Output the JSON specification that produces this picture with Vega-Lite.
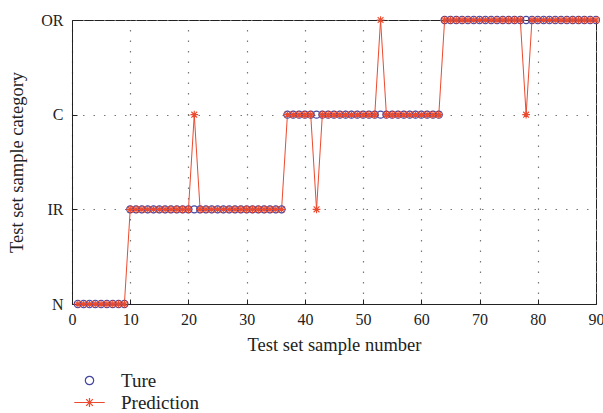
{
  "$schema": "https://vega.github.io/schema/vega-lite/v6.json",
  "width": 524,
  "height": 284,
  "autosize": {"type": "none"},
  "padding": {"left": 72, "top": 20, "right": 7, "bottom": 109},
  "background": "white",
  "config": {
    "view": {"stroke": "#222", "strokeWidth": 1},
    "font": "Liberation Serif",
    "axis": {
      "labelFont": "Liberation Serif",
      "titleFont": "Liberation Serif",
      "labelFontSize": 16,
      "titleFontSize": 18.5,
      "titleFontWeight": "normal",
      "labelColor": "#222",
      "titleColor": "#222",
      "domainColor": "#222",
      "tickColor": "#222",
      "tickSize": -5,
      "grid": true,
      "gridColor": "#777",
      "gridDash": [1.5, 9],
      "gridWidth": 1.2
    },
    "legend": {
      "labelFont": "Liberation Serif",
      "labelFontSize": 19,
      "labelColor": "#222"
    }
  },
  "data": {
    "values": [
      {"n": 1, "Ture": "N", "Prediction": "N"},
      {"n": 2, "Ture": "N", "Prediction": "N"},
      {"n": 3, "Ture": "N", "Prediction": "N"},
      {"n": 4, "Ture": "N", "Prediction": "N"},
      {"n": 5, "Ture": "N", "Prediction": "N"},
      {"n": 6, "Ture": "N", "Prediction": "N"},
      {"n": 7, "Ture": "N", "Prediction": "N"},
      {"n": 8, "Ture": "N", "Prediction": "N"},
      {"n": 9, "Ture": "N", "Prediction": "N"},
      {"n": 10, "Ture": "IR", "Prediction": "IR"},
      {"n": 11, "Ture": "IR", "Prediction": "IR"},
      {"n": 12, "Ture": "IR", "Prediction": "IR"},
      {"n": 13, "Ture": "IR", "Prediction": "IR"},
      {"n": 14, "Ture": "IR", "Prediction": "IR"},
      {"n": 15, "Ture": "IR", "Prediction": "IR"},
      {"n": 16, "Ture": "IR", "Prediction": "IR"},
      {"n": 17, "Ture": "IR", "Prediction": "IR"},
      {"n": 18, "Ture": "IR", "Prediction": "IR"},
      {"n": 19, "Ture": "IR", "Prediction": "IR"},
      {"n": 20, "Ture": "IR", "Prediction": "IR"},
      {"n": 21, "Ture": "IR", "Prediction": "C"},
      {"n": 22, "Ture": "IR", "Prediction": "IR"},
      {"n": 23, "Ture": "IR", "Prediction": "IR"},
      {"n": 24, "Ture": "IR", "Prediction": "IR"},
      {"n": 25, "Ture": "IR", "Prediction": "IR"},
      {"n": 26, "Ture": "IR", "Prediction": "IR"},
      {"n": 27, "Ture": "IR", "Prediction": "IR"},
      {"n": 28, "Ture": "IR", "Prediction": "IR"},
      {"n": 29, "Ture": "IR", "Prediction": "IR"},
      {"n": 30, "Ture": "IR", "Prediction": "IR"},
      {"n": 31, "Ture": "IR", "Prediction": "IR"},
      {"n": 32, "Ture": "IR", "Prediction": "IR"},
      {"n": 33, "Ture": "IR", "Prediction": "IR"},
      {"n": 34, "Ture": "IR", "Prediction": "IR"},
      {"n": 35, "Ture": "IR", "Prediction": "IR"},
      {"n": 36, "Ture": "IR", "Prediction": "IR"},
      {"n": 37, "Ture": "C", "Prediction": "C"},
      {"n": 38, "Ture": "C", "Prediction": "C"},
      {"n": 39, "Ture": "C", "Prediction": "C"},
      {"n": 40, "Ture": "C", "Prediction": "C"},
      {"n": 41, "Ture": "C", "Prediction": "C"},
      {"n": 42, "Ture": "C", "Prediction": "IR"},
      {"n": 43, "Ture": "C", "Prediction": "C"},
      {"n": 44, "Ture": "C", "Prediction": "C"},
      {"n": 45, "Ture": "C", "Prediction": "C"},
      {"n": 46, "Ture": "C", "Prediction": "C"},
      {"n": 47, "Ture": "C", "Prediction": "C"},
      {"n": 48, "Ture": "C", "Prediction": "C"},
      {"n": 49, "Ture": "C", "Prediction": "C"},
      {"n": 50, "Ture": "C", "Prediction": "C"},
      {"n": 51, "Ture": "C", "Prediction": "C"},
      {"n": 52, "Ture": "C", "Prediction": "C"},
      {"n": 53, "Ture": "C", "Prediction": "OR"},
      {"n": 54, "Ture": "C", "Prediction": "C"},
      {"n": 55, "Ture": "C", "Prediction": "C"},
      {"n": 56, "Ture": "C", "Prediction": "C"},
      {"n": 57, "Ture": "C", "Prediction": "C"},
      {"n": 58, "Ture": "C", "Prediction": "C"},
      {"n": 59, "Ture": "C", "Prediction": "C"},
      {"n": 60, "Ture": "C", "Prediction": "C"},
      {"n": 61, "Ture": "C", "Prediction": "C"},
      {"n": 62, "Ture": "C", "Prediction": "C"},
      {"n": 63, "Ture": "C", "Prediction": "C"},
      {"n": 64, "Ture": "OR", "Prediction": "OR"},
      {"n": 65, "Ture": "OR", "Prediction": "OR"},
      {"n": 66, "Ture": "OR", "Prediction": "OR"},
      {"n": 67, "Ture": "OR", "Prediction": "OR"},
      {"n": 68, "Ture": "OR", "Prediction": "OR"},
      {"n": 69, "Ture": "OR", "Prediction": "OR"},
      {"n": 70, "Ture": "OR", "Prediction": "OR"},
      {"n": 71, "Ture": "OR", "Prediction": "OR"},
      {"n": 72, "Ture": "OR", "Prediction": "OR"},
      {"n": 73, "Ture": "OR", "Prediction": "OR"},
      {"n": 74, "Ture": "OR", "Prediction": "OR"},
      {"n": 75, "Ture": "OR", "Prediction": "OR"},
      {"n": 76, "Ture": "OR", "Prediction": "OR"},
      {"n": 77, "Ture": "OR", "Prediction": "OR"},
      {"n": 78, "Ture": "OR", "Prediction": "C"},
      {"n": 79, "Ture": "OR", "Prediction": "OR"},
      {"n": 80, "Ture": "OR", "Prediction": "OR"},
      {"n": 81, "Ture": "OR", "Prediction": "OR"},
      {"n": 82, "Ture": "OR", "Prediction": "OR"},
      {"n": 83, "Ture": "OR", "Prediction": "OR"},
      {"n": 84, "Ture": "OR", "Prediction": "OR"},
      {"n": 85, "Ture": "OR", "Prediction": "OR"},
      {"n": 86, "Ture": "OR", "Prediction": "OR"},
      {"n": 87, "Ture": "OR", "Prediction": "OR"},
      {"n": 88, "Ture": "OR", "Prediction": "OR"},
      {"n": 89, "Ture": "OR", "Prediction": "OR"},
      {"n": 90, "Ture": "OR", "Prediction": "OR"}
    ]
  },
  "transform": [{"fold": ["Ture", "Prediction"], "as": ["series", "cat"]}],
  "encoding": {
    "x": {
      "field": "n",
      "type": "quantitative",
      "scale": {"domain": [0, 90], "nice": false},
      "axis": {
        "title": "Test set sample number",
        "values": [0, 10, 20, 30, 40, 50, 60, 70, 80, 90],
        "labelPadding": 12,
        "titlePadding": 8,
        "labelFlush": false
      }
    },
    "y": {
      "field": "cat",
      "type": "ordinal",
      "scale": {"type": "point", "domain": ["OR", "C", "IR", "N"], "padding": 0},
      "axis": {
        "title": "Test set sample category",
        "grid": true,
        "labelPadding": 14,
        "titlePadding": 14
      }
    }
  },
  "layer": [
    {
      "transform": [{"filter": "datum.series === 'Prediction'"}],
      "mark": {"type": "line", "color": "#ec4a2e", "strokeWidth": 1},
      "encoding": {"order": {"field": "n", "type": "quantitative"}}
    },
    {
      "transform": [{"filter": "datum.series === 'Ture'"}],
      "mark": {"type": "point", "shape": "circle", "filled": false, "size": 50, "strokeWidth": 1.2, "opacity": 1},
      "encoding": {
        "color": {
          "field": "series",
          "type": "nominal",
          "scale": {"domain": ["Ture"], "range": ["#45459f"]},
          "legend": {
            "title": null,
            "orient": "none",
            "legendX": 8,
            "legendY": 351,
            "symbolType": "circle",
            "symbolSize": 70,
            "symbolStrokeWidth": 1.2,
            "labelOffset": 22
          }
        }
      }
    },
    {
      "transform": [{"filter": "datum.series === 'Prediction'"}],
      "mark": {"type": "point", "shape": "M-1,0H1M0,-1V1M-0.75,-0.75L0.75,0.75M-0.75,0.75L0.75,-0.75", "filled": false, "size": 60, "strokeWidth": 1.1, "opacity": 1},
      "encoding": {
        "color": {
          "field": "series",
          "type": "nominal",
          "scale": {"domain": ["Prediction"], "range": ["#ec4a2e"]},
          "legend": {
            "title": null,
            "orient": "none",
            "legendX": 8,
            "legendY": 373,
            "symbolType": "M-3.4,0H3.4M0,-1V1M-0.75,-0.75L0.75,0.75M-0.75,0.75L0.75,-0.75",
            "symbolSize": 80,
            "symbolStrokeWidth": 1.2,
            "labelOffset": 22
          }
        }
      }
    }
  ],
  "resolve": {"scale": {"color": "independent"}, "legend": {"color": "independent"}}
}
